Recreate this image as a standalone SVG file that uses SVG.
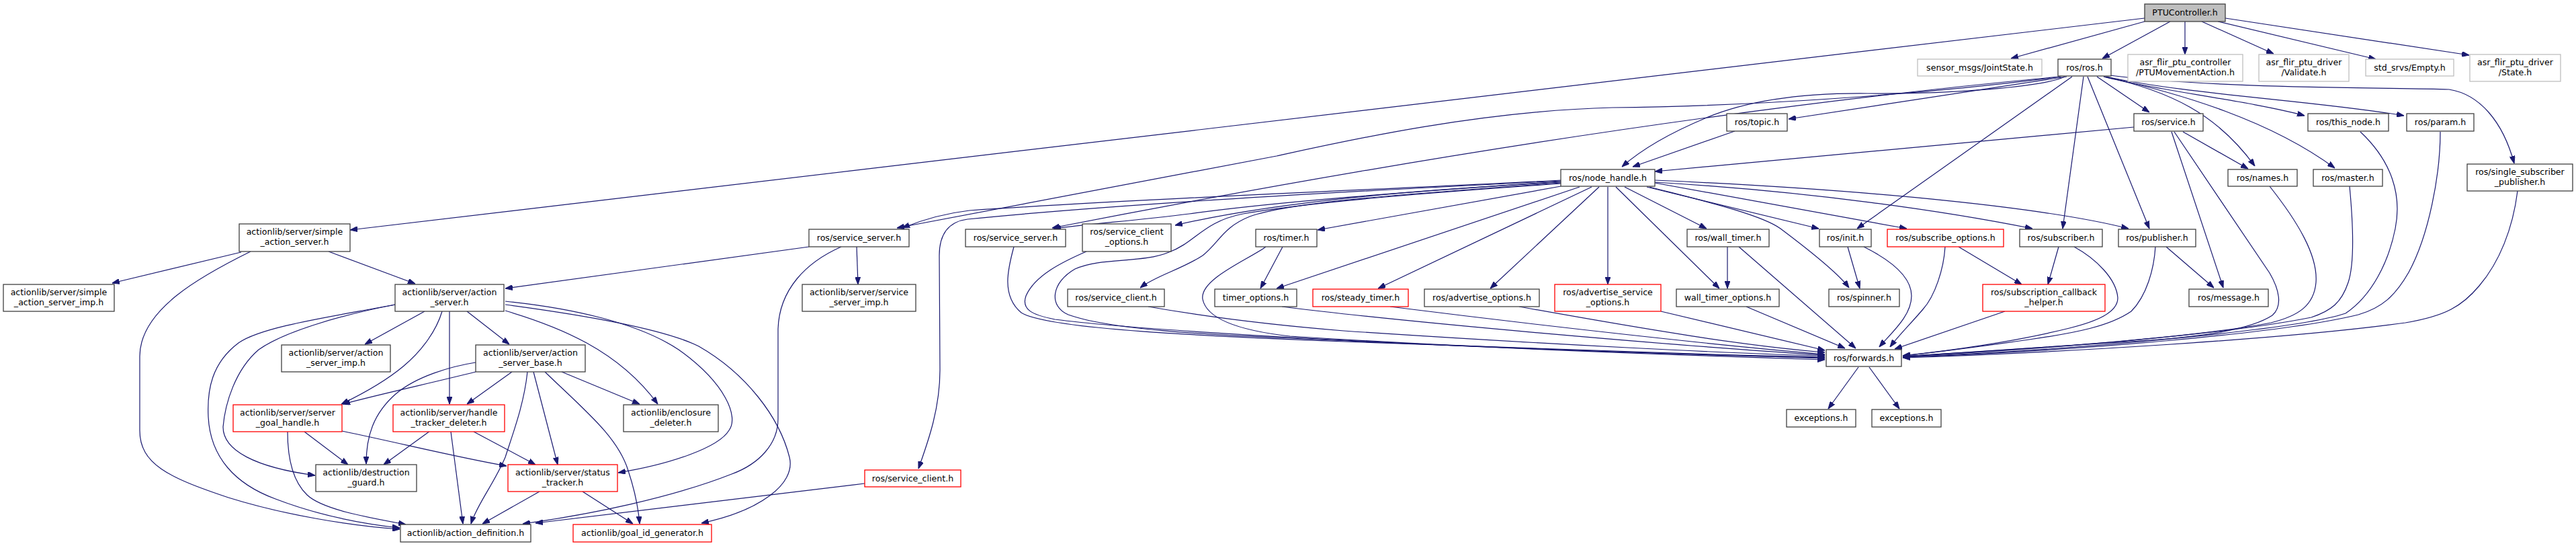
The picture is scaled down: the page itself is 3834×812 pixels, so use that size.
<svg xmlns="http://www.w3.org/2000/svg" width="3834" height="812" viewBox="0 0 3834 812">
<style>
rect{fill:#fff;stroke:#404040;stroke-width:1.3}
.g rect{stroke:#bfbfbf}
.r rect{stroke:#ff0000}
.root rect{fill:#bfbfbf;stroke:#404040}
text{font-family:"DejaVu Sans","Liberation Sans",sans-serif;font-size:12.6px;fill:#000;text-anchor:middle}
#edges path{fill:none;stroke:#191970;stroke-width:1.2;marker-end:url(#a)}
</style>
<defs>
<marker id="a" markerWidth="11" markerHeight="8" refX="11" refY="4" orient="auto" markerUnits="userSpaceOnUse"><path d="M0,0 L11,4 L0,8 z" fill="#191970" stroke="#191970" stroke-width="1"/></marker>
</defs>
<rect x="0" y="0" width="3834" height="812" style="stroke:none;fill:#fff"/>
<g id="edges">
<path d="M3192,27 L521,342"/>
<path d="M3192,32 L2993,87"/>
<path d="M3230,32 L3129,87"/>
<path d="M3252,32 L3252,81"/>
<path d="M3277,32 L3384,80"/>
<path d="M3301,32 L3536,88"/>
<path d="M3312,27 L3675,82"/>
<path d="M359,375 L167,421"/>
<path d="M489,374 L618,422"/>
<path d="M373,374 C300,410 208,460 208,530 L208,640 C208,690 250,710 340,740 C420,765 520,782 595,787"/>
<path d="M632,463 L543,512"/>
<path d="M695,463 L758,512"/>
<path d="M658,463 C650,490 630,520 600,545 C570,570 535,588 508,601"/>
<path d="M669,463 L669,601"/>
<path d="M588,453 C500,470 390,485 355,510 C315,540 308,580 310,620 C313,680 350,720 410,742 C470,765 530,778 595,785"/>
<path d="M588,453 C500,470 420,495 385,520 C350,550 335,600 332,635 C332,670 380,695 469,707"/>
<path d="M752,462 C830,485 920,520 979,601"/>
<path d="M752,448 C850,458 950,480 1010,520 C1080,570 1100,620 1085,640 C1070,665 1000,690 920,703"/>
<path d="M752,453 C880,470 990,490 1040,515 C1110,555 1160,620 1175,680 C1185,720 1130,760 1044,778"/>
<path d="M708,553 C640,570 570,585 510,601"/>
<path d="M708,539 C670,545 620,560 590,585 C555,615 545,650 545,690"/>
<path d="M762,553 L695,601"/>
<path d="M785,553 C780,600 765,640 752,680 C735,720 710,750 701,779"/>
<path d="M794,553 L830,691"/>
<path d="M811,553 C870,610 920,650 935,700 C945,730 950,755 952,779"/>
<path d="M836,553 L952,601"/>
<path d="M453,642 L518,691"/>
<path d="M428,642 C428,680 435,715 457,736 C480,758 550,770 604,780"/>
<path d="M509,641 C600,660 680,680 754,693"/>
<path d="M640,641 L571,691"/>
<path d="M671,642 L689,779"/>
<path d="M705,642 L797,691"/>
<path d="M803,731 L718,779"/>
<path d="M867,731 L942,779"/>
<path d="M1204,367 L752,429"/>
<path d="M1275,367 L1277,423"/>
<path d="M1252,367 C1200,390 1160,430 1158,489 L1158,623 C1158,660 1130,690 1089,705 C1000,740 880,765 778,779"/>
<path d="M1287,719 L797,778"/>
<path d="M1509,367 C1500,400 1490,440 1520,465 C1560,490 1800,500 2000,508 C2300,520 2600,530 2716,533"/>
<path d="M1617,374 C1580,390 1540,410 1527,440 C1520,460 1535,468 1570,475 C1750,498 2300,522 2716,535"/>
<path d="M1909,367 L1876,429"/>
<path d="M1884,367 C1860,385 1785,415 1790,445 C1795,470 1830,490 1920,500 C2200,518 2500,527 2716,531"/>
<path d="M2323,277 L1961,342"/>
<path d="M2351,278 L1900,429"/>
<path d="M2369,278 L2051,429"/>
<path d="M2380,278 L2218,429"/>
<path d="M2393,278 L2393,423"/>
<path d="M2405,278 L2559,429"/>
<path d="M2418,278 L2540,340"/>
<path d="M2451,278 L2707,340"/>
<path d="M2455,278 C2520,295 2620,318 2650,340 C2690,370 2735,405 2752,428"/>
<path d="M2463,272 L2838,340"/>
<path d="M2463,271 C2700,285 2900,315 3025,340"/>
<path d="M2463,268 C2800,283 3050,310 3168,340"/>
<path d="M2323,268 C2100,280 1700,295 1443,313 C1400,318 1370,328 1343,339"/>
<path d="M2323,270 C2100,285 1900,300 1770,318 C1690,328 1620,333 1568,340"/>
<path d="M2323,271 C2100,283 1900,300 1749,335"/>
<path d="M2323,269 C2100,280 1700,300 1440,326 C1410,330 1398,350 1398,380 L1399,550 C1399,610 1380,660 1367,697"/>
<path d="M2323,272 C2100,288 1920,300 1860,322 C1820,338 1815,360 1790,380 C1760,400 1720,410 1697,428"/>
<path d="M2323,273 C2150,285 1950,300 1850,318 C1790,330 1780,360 1740,375 C1700,392 1640,382 1600,400 C1565,420 1560,455 1590,468 C1650,490 1800,498 1920,503 C2200,516 2500,528 2716,532"/>
<path d="M3076,114 L2662,177"/>
<path d="M3073,114 C3040,130 2900,140 2780,139 C2680,138 2600,150 2540,175 C2480,200 2440,225 2414,248"/>
<path d="M3068,114 C2850,142 2600,158 2400,160 C2200,165 2000,210 1900,232 L1335,339"/>
<path d="M3066,114 C2700,148 2200,215 1566,339"/>
<path d="M3084,114 L2764,340"/>
<path d="M3101,114 L3070,340"/>
<path d="M3107,114 L3199,340"/>
<path d="M3121,114 L3199,167"/>
<path d="M3131,114 C3200,133 3350,150 3430,172"/>
<path d="M3135,114 C3250,140 3450,150 3578,172"/>
<path d="M3131,114 C3230,135 3300,170 3356,247"/>
<path d="M3133,114 C3250,140 3380,180 3475,250"/>
<path d="M3140,112 C3300,132 3550,130 3645,133 C3690,140 3725,180 3742,243"/>
<path d="M2582,195 L2430,248"/>
<path d="M3176,189 L2463,255"/>
<path d="M3249,196 L3346,251"/>
<path d="M3232,196 L3309,428"/>
<path d="M3236,196 L3378,406 C3392,430 3398,455 3382,469 C3350,490 3280,500 3200,506 C3050,516 2900,526 2832,530"/>
<path d="M3378,277 C3420,330 3450,380 3447,420 C3444,455 3420,470 3380,480 C3250,505 3000,520 2832,530"/>
<path d="M3497,277 C3502,330 3505,390 3495,420 C3485,450 3470,462 3440,472 C3300,500 3000,522 2832,530"/>
<path d="M3513,196 C3560,240 3575,290 3565,340 C3555,390 3530,440 3491,466 C3420,490 3100,520 2832,531"/>
<path d="M3632,196 C3632,260 3615,350 3585,405 C3565,440 3545,458 3510,468 C3400,495 3100,522 2832,531"/>
<path d="M3747,284 C3740,340 3720,390 3690,425 C3665,455 3640,470 3580,480 C3400,505 3050,525 2832,532"/>
<path d="M3087,367 C3120,385 3150,415 3152,443 C3152,465 3120,478 3080,488 C3000,508 2900,522 2832,529"/>
<path d="M3208,367 C3206,400 3195,440 3172,463 C3140,485 3090,495 3020,505 C2950,515 2880,524 2832,529"/>
<path d="M3224,367 L3295,428"/>
<path d="M2750,367 L2768,429"/>
<path d="M2774,367 C2810,385 2845,410 2845,440 C2845,470 2815,495 2797,516"/>
<path d="M2895,367 C2893,400 2880,440 2862,460 C2845,480 2825,500 2813,516"/>
<path d="M2915,367 L3009,423"/>
<path d="M3064,367 L3048,423"/>
<path d="M2984,463 L2820,519"/>
<path d="M2571,367 L2571,429"/>
<path d="M2588,367 L2762,518"/>
<path d="M2599,456 L2746,518"/>
<path d="M1709,456 C1800,472 1900,484 2000,492 C2300,512 2600,527 2716,529"/>
<path d="M2069,456 C2300,485 2560,514 2716,527"/>
<path d="M2261,456 C2450,490 2600,515 2716,524"/>
<path d="M2472,463 L2716,521"/>
<path d="M1908,456 C2100,480 2500,515 2716,528"/>
<path d="M2766,546 L2721,608"/>
<path d="M2782,546 L2827,608"/>
</g>
<g id="n_ptu" class="root"><rect x="3192" y="6" width="120" height="26"/><text x="3252" y="23">PTUController.h</text></g>
<g id="n_jointstate" class="g"><rect x="2854" y="88" width="185" height="25"/><text x="2946.5" y="105">sensor_msgs/JointState.h</text></g>
<g id="n_ros"><rect x="3063" y="88" width="79" height="25"/><text x="3102.5" y="105">ros/ros.h</text></g>
<g id="n_ptumove" class="g"><rect x="3167" y="81" width="171" height="40"/><text x="3252.5" y="97">asr_flir_ptu_controller</text><text x="3252.5" y="112">/PTUMovementAction.h</text></g>
<g id="n_validate" class="g"><rect x="3362" y="81" width="134" height="40"/><text x="3429" y="97">asr_flir_ptu_driver</text><text x="3429" y="112">/Validate.h</text></g>
<g id="n_empty" class="g"><rect x="3521" y="88" width="131" height="25"/><text x="3586.5" y="105">std_srvs/Empty.h</text></g>
<g id="n_state" class="g"><rect x="3676" y="81" width="135" height="40"/><text x="3743.5" y="97">asr_flir_ptu_driver</text><text x="3743.5" y="112">/State.h</text></g>
<g id="n_sas"><rect x="356" y="333" width="165" height="41"/><text x="438.5" y="349">actionlib/server/simple</text><text x="438.5" y="364">_action_server.h</text></g>
<g id="n_topic"><rect x="2570" y="169" width="90" height="26"/><text x="2615" y="186">ros/topic.h</text></g>
<g id="n_service"><rect x="3176" y="169" width="103" height="26"/><text x="3227.5" y="186">ros/service.h</text></g>
<g id="n_thisnode"><rect x="3435" y="169" width="120" height="26"/><text x="3495" y="186">ros/this_node.h</text></g>
<g id="n_param"><rect x="3582" y="169" width="100" height="26"/><text x="3632" y="186">ros/param.h</text></g>
<g id="n_nodehandle"><rect x="2323" y="252" width="140" height="25"/><text x="2393" y="269">ros/node_handle.h</text></g>
<g id="n_names"><rect x="3316" y="252" width="103" height="25"/><text x="3367.5" y="269">ros/names.h</text></g>
<g id="n_master"><rect x="3443" y="252" width="103" height="25"/><text x="3494.5" y="269">ros/master.h</text></g>
<g id="n_ssp"><rect x="3672" y="244" width="157" height="40"/><text x="3750.5" y="260">ros/single_subscriber</text><text x="3750.5" y="275">_publisher.h</text></g>
<g id="n_ss1"><rect x="1204" y="341" width="149" height="26"/><text x="1278.5" y="358">ros/service_server.h</text></g>
<g id="n_ss2"><rect x="1437" y="341" width="149" height="26"/><text x="1511.5" y="358">ros/service_server.h</text></g>
<g id="n_sco"><rect x="1611" y="333" width="132" height="41"/><text x="1677" y="349">ros/service_client</text><text x="1677" y="364">_options.h</text></g>
<g id="n_timer"><rect x="1869" y="341" width="91" height="26"/><text x="1914.5" y="358">ros/timer.h</text></g>
<g id="n_walltimer"><rect x="2511" y="341" width="122" height="26"/><text x="2572" y="358">ros/wall_timer.h</text></g>
<g id="n_init"><rect x="2708" y="341" width="77" height="26"/><text x="2746.5" y="358">ros/init.h</text></g>
<g id="n_subopts" class="r"><rect x="2809" y="341" width="173" height="26"/><text x="2895.5" y="358">ros/subscribe_options.h</text></g>
<g id="n_subscriber"><rect x="3006" y="341" width="123" height="26"/><text x="3067.5" y="358">ros/subscriber.h</text></g>
<g id="n_publisher"><rect x="3153" y="341" width="115" height="26"/><text x="3210.5" y="358">ros/publisher.h</text></g>
<g id="n_sasimp"><rect x="5" y="423" width="165" height="40"/><text x="87.5" y="439">actionlib/server/simple</text><text x="87.5" y="454">_action_server_imp.h</text></g>
<g id="n_as"><rect x="588" y="423" width="162" height="40"/><text x="669" y="439">actionlib/server/action</text><text x="669" y="454">_server.h</text></g>
<g id="n_ssimp"><rect x="1194" y="423" width="169" height="40"/><text x="1278.5" y="439">actionlib/server/service</text><text x="1278.5" y="454">_server_imp.h</text></g>
<g id="n_sc"><rect x="1589" y="430" width="144" height="26"/><text x="1661" y="447">ros/service_client.h</text></g>
<g id="n_timeropts"><rect x="1808" y="430" width="122" height="26"/><text x="1869" y="447">timer_options.h</text></g>
<g id="n_steady" class="r"><rect x="1954" y="430" width="142" height="26"/><text x="2025" y="447">ros/steady_timer.h</text></g>
<g id="n_advopts"><rect x="2120" y="430" width="171" height="26"/><text x="2205.5" y="447">ros/advertise_options.h</text></g>
<g id="n_advsrv" class="r"><rect x="2314" y="423" width="158" height="40"/><text x="2393" y="439">ros/advertise_service</text><text x="2393" y="454">_options.h</text></g>
<g id="n_wto"><rect x="2495" y="430" width="153" height="26"/><text x="2571.5" y="447">wall_timer_options.h</text></g>
<g id="n_spinner"><rect x="2722" y="430" width="105" height="26"/><text x="2774.5" y="447">ros/spinner.h</text></g>
<g id="n_sch" class="r"><rect x="2951" y="423" width="182" height="40"/><text x="3042" y="439">ros/subscription_callback</text><text x="3042" y="454">_helper.h</text></g>
<g id="n_message"><rect x="3258" y="430" width="118" height="26"/><text x="3317" y="447">ros/message.h</text></g>
<g id="n_forwards"><rect x="2718" y="520" width="112" height="25"/><text x="2774" y="537">ros/forwards.h</text></g>
<g id="n_asimp"><rect x="419" y="513" width="162" height="40"/><text x="500" y="529">actionlib/server/action</text><text x="500" y="544">_server_imp.h</text></g>
<g id="n_asbase"><rect x="708" y="513" width="163" height="40"/><text x="789.5" y="529">actionlib/server/action</text><text x="789.5" y="544">_server_base.h</text></g>
<g id="n_sgh" class="r"><rect x="347" y="602" width="162" height="40"/><text x="428" y="618">actionlib/server/server</text><text x="428" y="633">_goal_handle.h</text></g>
<g id="n_htd" class="r"><rect x="585" y="602" width="166" height="40"/><text x="668" y="618">actionlib/server/handle</text><text x="668" y="633">_tracker_deleter.h</text></g>
<g id="n_encl"><rect x="928" y="602" width="141" height="40"/><text x="998.5" y="618">actionlib/enclosure</text><text x="998.5" y="633">_deleter.h</text></g>
<g id="n_exc1"><rect x="2659" y="609" width="103" height="26"/><text x="2710.5" y="626">exceptions.h</text></g>
<g id="n_exc2"><rect x="2786" y="609" width="103" height="26"/><text x="2837.5" y="626">exceptions.h</text></g>
<g id="n_dguard"><rect x="470" y="691" width="150" height="40"/><text x="545" y="707">actionlib/destruction</text><text x="545" y="722">_guard.h</text></g>
<g id="n_status" class="r"><rect x="756" y="691" width="163" height="40"/><text x="837.5" y="707">actionlib/server/status</text><text x="837.5" y="722">_tracker.h</text></g>
<g id="n_scred" class="r"><rect x="1287" y="699" width="143" height="25"/><text x="1358.5" y="716">ros/service_client.h</text></g>
<g id="n_actdef"><rect x="596" y="780" width="194" height="26"/><text x="693" y="797">actionlib/action_definition.h</text></g>
<g id="n_goalid" class="r"><rect x="853" y="780" width="206" height="26"/><text x="956" y="797">actionlib/goal_id_generator.h</text></g>
</svg>
